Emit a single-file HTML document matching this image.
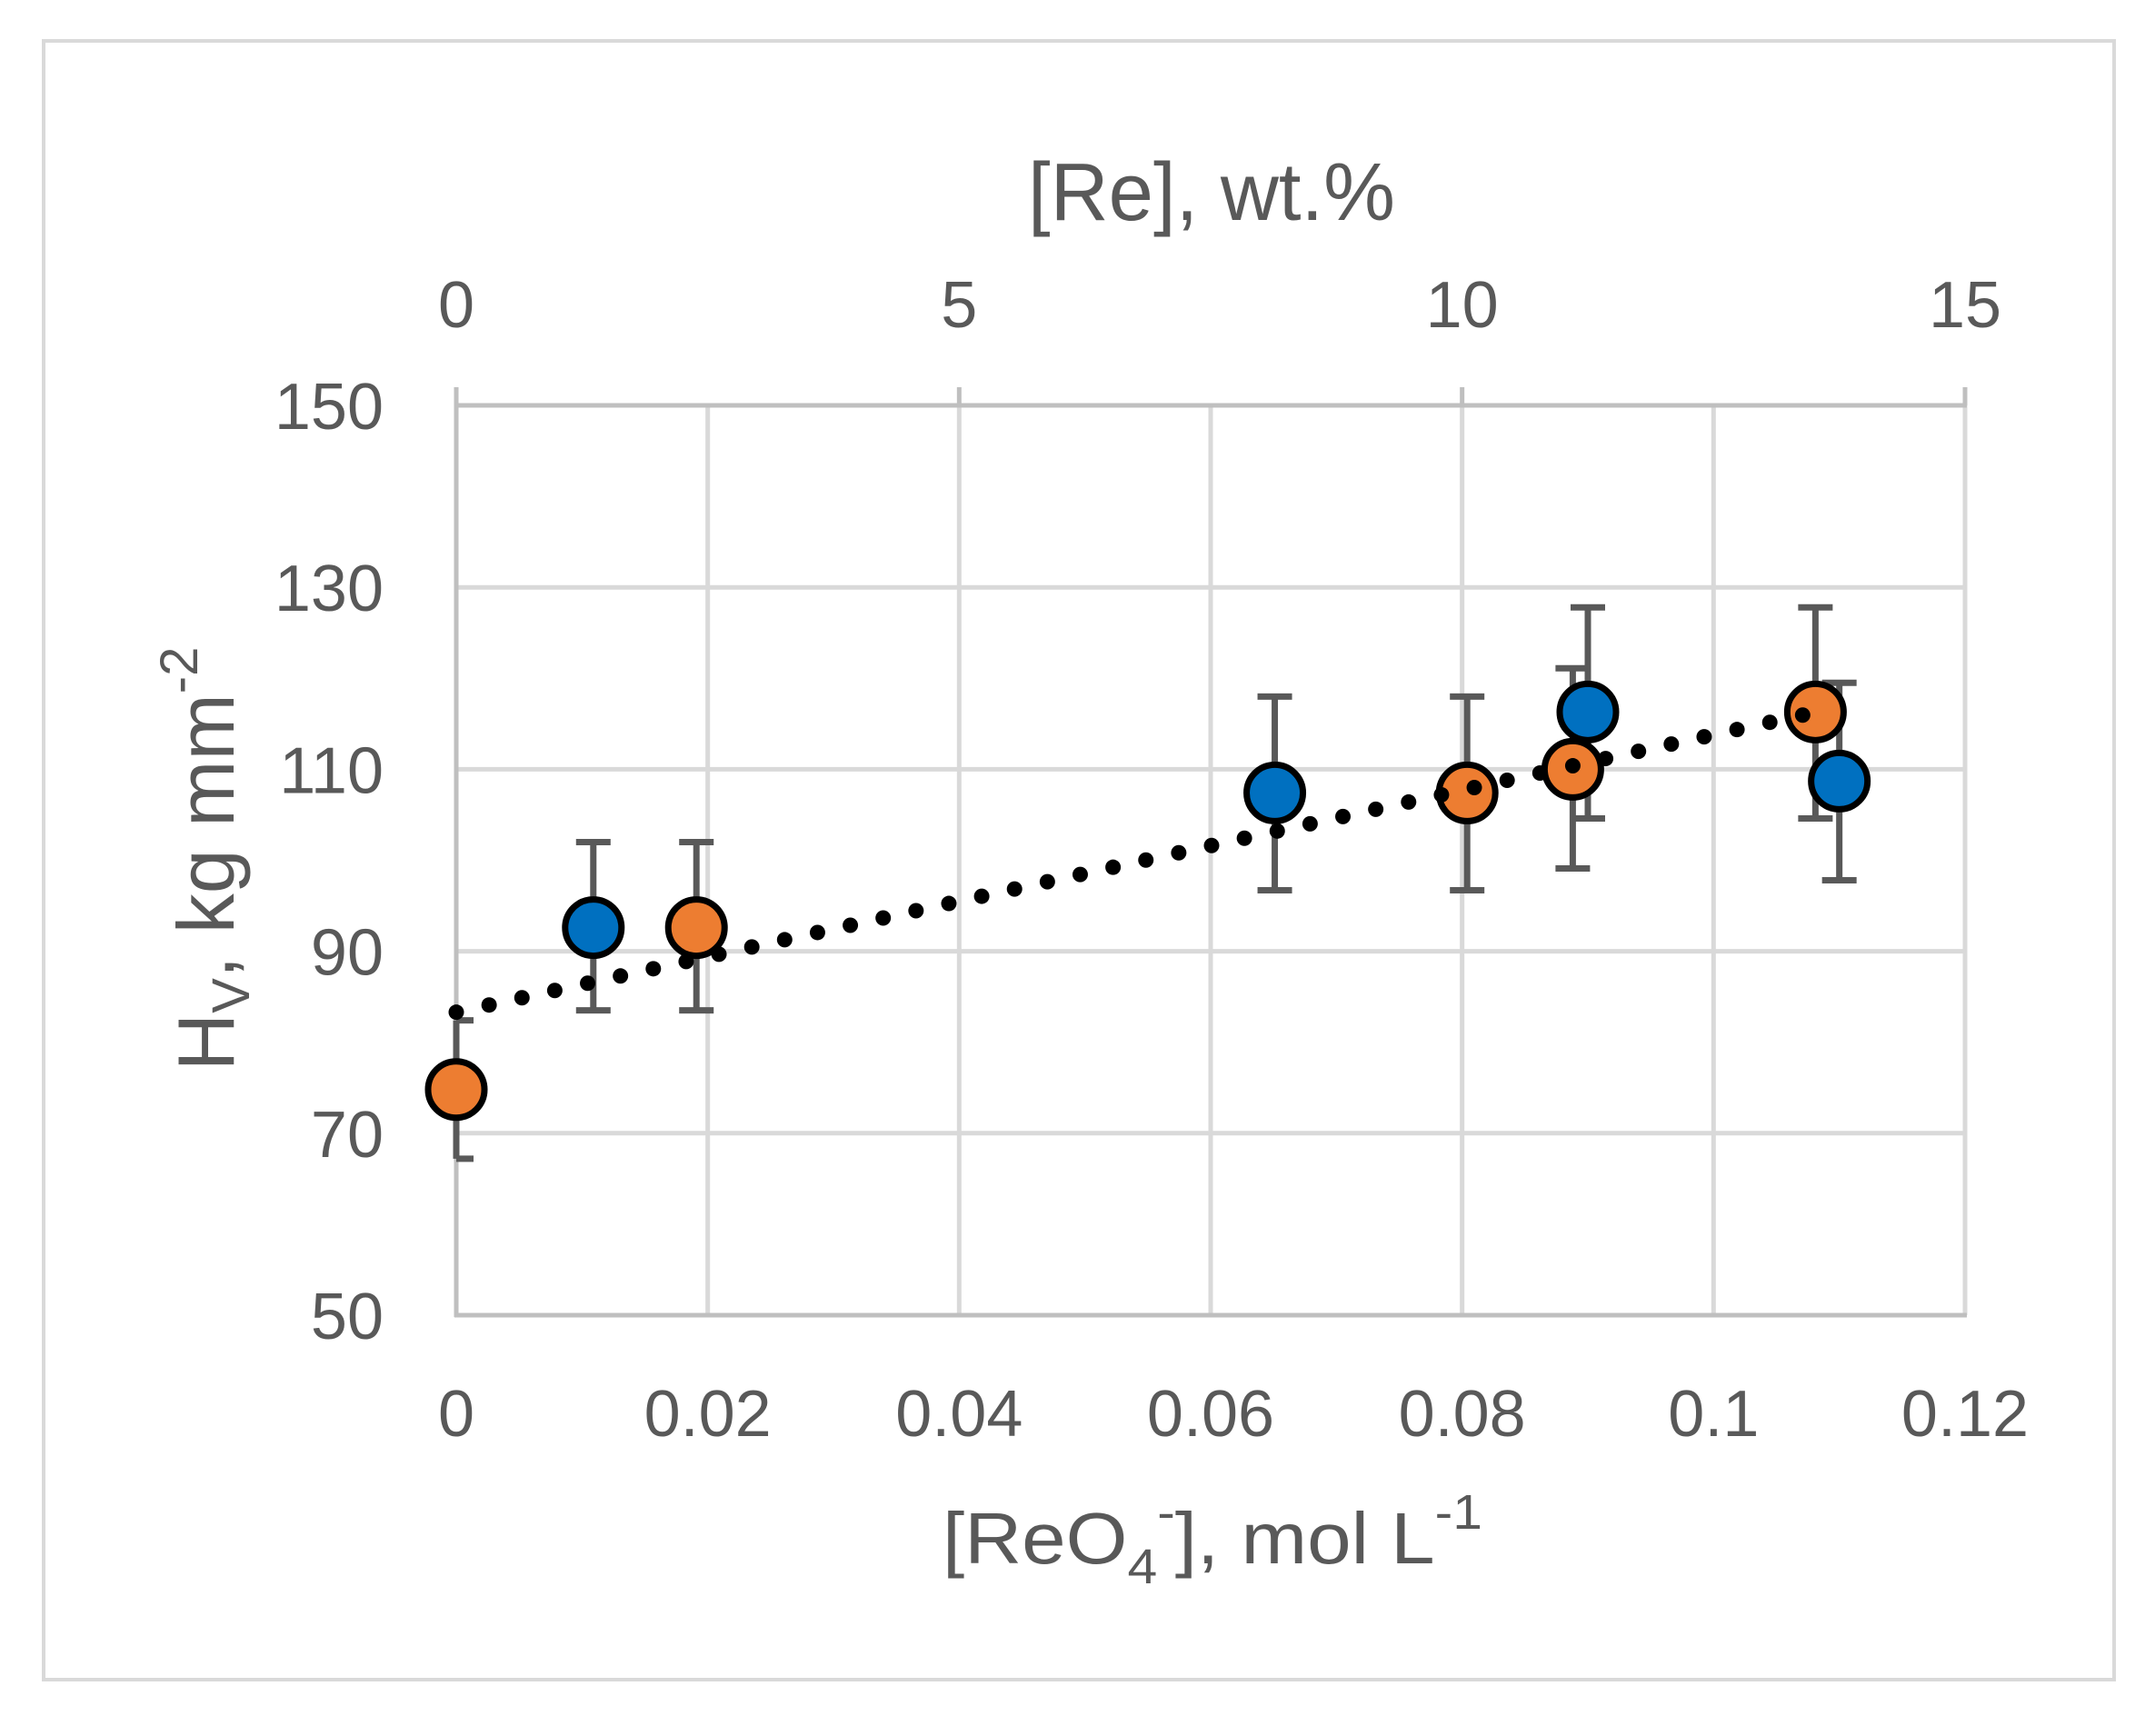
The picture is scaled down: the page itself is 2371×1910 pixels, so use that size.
<!DOCTYPE html>
<html><head><meta charset="utf-8"><style>
html,body{margin:0;padding:0;background:#fff;}
svg{display:block;}
text{font-family:"Liberation Sans",sans-serif;fill:#595959;}
</style></head><body>
<svg id="chart" width="2371" height="1910" viewBox="0 0 2371 1910" xmlns="http://www.w3.org/2000/svg">
<rect x="48" y="45" width="2278" height="1803" fill="#fff" stroke="#d9d9d9" stroke-width="4"/>
<g id="grid"></g>
<g id="axes"></g>
<g id="errors"></g>
<g id="marks"></g>
<text x="1131" y="242" font-size="90" textLength="404" lengthAdjust="spacingAndGlyphs">[Re], wt.%</text>
<text x="1037" y="1720" font-size="80" textLength="594" lengthAdjust="spacingAndGlyphs">[ReO<tspan font-size="54" dy="22">4</tspan><tspan font-size="54" dy="-60">-</tspan><tspan dy="38">], mol L</tspan><tspan font-size="54" dy="-38">-1</tspan></text>
<text transform="translate(257,945) rotate(-90)" font-size="88" text-anchor="middle">H<tspan font-size="58" dy="17">V</tspan><tspan dy="-17">, kg mm</tspan><tspan font-size="58" dy="-40">-2</tspan></text>
</svg>
<script>
const xTicks=[0,0.02,0.04,0.06,0.08,0.1,0.12];
const xTickLabels=["0","0.02","0.04","0.06","0.08","0.1","0.12"];
const yTicks=[50,70,90,110,130,150];
const topTicks=[0,5,10,15];
const blueX=[0.0109,0.0651,0.0900,0.1100];
const blueY=[92.6,107.4,116.3,108.7];
const blueLo=[83.5,96.7,104.6,97.8];
const blueHi=[102.0,118.0,127.8,119.5];
const orangeX=[0,0.0191,0.0804,0.0888,0.1081];
const orangeY=[74.8,92.6,107.4,110.0,116.3];
const orangeLo=[67.2,83.5,96.7,99.1,104.6];
const orangeHi=[82.4,102.0,118.0,121.1,127.8];
const trendIntercept=83.3;
const trendSlope=305;
const trendRange=[0,0.1081];

const L=502,R=2162,T=446,B=1447;
const sx=v=>L+(v-0)/(0.12-0)*(R-L);
const sy=v=>B-(v-50)/(150-50)*(B-T);
const st=v=>L+v/15*(R-L);
const NS="http://www.w3.org/2000/svg";
function mk(parent,tag,attrs){const e=document.createElementNS(NS,tag);for(const k in attrs)e.setAttribute(k,attrs[k]);document.getElementById(parent).appendChild(e);return e;}

xTicks.forEach((v,i)=>{
  if(v>0&&v<0.12){const g=mk('grid','line',{x1:sx(v),x2:sx(v),y1:T,y2:B,stroke:'#d9d9d9','stroke-width':5});
  
  }
  const t=mk('axes','text',{x:sx(v),y:1580,'font-size':72,'text-anchor':'middle'});t.textContent=xTickLabels[i];
  
  
});
yTicks.forEach(v=>{
  if(v>50&&v<150){const g=mk('grid','line',{x1:L,x2:R,y1:sy(v),y2:sy(v),stroke:'#d9d9d9','stroke-width':5});
  
  }
  const t=mk('axes','text',{x:422,y:sy(v)+26,'font-size':72,'text-anchor':'end'});t.textContent=String(v);
  
  
});
const rg=mk('grid','line',{x1:R,x2:R,y1:T,y2:B,stroke:'#d9d9d9','stroke-width':5});


topTicks.forEach(v=>{
  const tk=mk('axes','line',{x1:st(v),x2:st(v),y1:T-20,y2:T,stroke:'#bfbfbf','stroke-width':5});
  
  
  const t=mk('axes','text',{x:st(v),y:360,'font-size':72,'text-anchor':'middle'});t.textContent=String(v);
  
  
});
const ta=mk('axes','line',{x1:L-2,x2:R+2,y1:T,y2:T,stroke:'#bfbfbf','stroke-width':5});


const ba=mk('axes','line',{x1:L-2,x2:R+2,y1:B,y2:B,stroke:'#bfbfbf','stroke-width':5});


const la=mk('axes','line',{x1:L,x2:L,y1:T-20,y2:B+2,stroke:'#bfbfbf','stroke-width':5});



function errBars(xs,lo,hi,name){
  xs.forEach((x,i)=>{
    const cx=sx(x),a=sy(hi[i]),b=sy(lo[i]);
    const l1=Math.max(L,cx-19);
    const v=mk('errors','line',{x1:cx,x2:cx,y1:a,y2:b,stroke:'#595959','stroke-width':7});
    
    
    const c1=mk('errors','line',{x1:l1,x2:cx+19,y1:a,y2:a,stroke:'#595959','stroke-width':7});
    
    
    const c2=mk('errors','line',{x1:l1,x2:cx+19,y1:b,y2:b,stroke:'#595959','stroke-width':7});
    
    
  });
}
errBars(blueX,blueLo,blueHi,'blue');
errBars(orangeX,orangeLo,orangeHi,'orange');
function points(xs,ys,fill,name){
  xs.forEach((x,i)=>{
    const c=mk('marks','circle',{cx:sx(x),cy:sy(ys[i]),r:31,fill:fill,stroke:'#000','stroke-width':7});
    
    
  });
}
points(blueX,blueY,'#0070c0','blue');
points(orangeX,orangeY,'#ed7d31','orange');
const tr=mk('marks','line',{x1:sx(trendRange[0]),y1:sy(trendIntercept+trendSlope*trendRange[0]),x2:sx(trendRange[1]),y2:sy(trendIntercept+trendSlope*trendRange[1]),stroke:'#000','stroke-width':17,'stroke-linecap':'round','stroke-dasharray':'0 37'});


</script>
</body></html>
